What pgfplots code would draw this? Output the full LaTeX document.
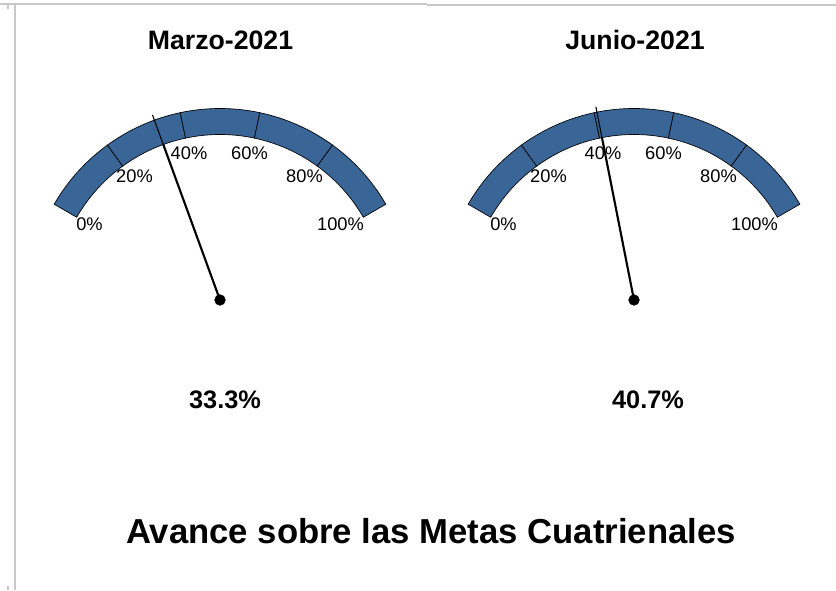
\documentclass[border=0pt]{standalone}
\usepackage{pgfplots}
\usepackage{pgfplotstable}
\pgfplotsset{compat=1.18}
\usepackage{fontspec}
\setmainfont{Liberation Sans}
\definecolor{bandblue}{RGB}{58,101,151}
\definecolor{framegray}{RGB}{200,200,200}

% needle values (percent)
\pgfplotstableread{
r v
0 33.3
166 33.3
}\needleAin
\pgfplotstableread{
r v
166 33.3
197 33.3
}\needleAout
\pgfplotstableread{
r v
0 40.7
166 40.7
}\needleBin
\pgfplotstableread{
r v
166 40.7
197 40.7
}\needleBout

\newcommand{\seg}[2]{%
  \filldraw[fill=bandblue, draw=black, line width=0.5pt]
    (axis cs:{191.5*cos(#1)},{191.5*sin(#1)})
    arc[start angle=#1, end angle=#2, radius=143.625pt]
    -- (axis cs:{165.5*cos(#2)},{165.5*sin(#2)})
    arc[start angle=#2, end angle=#1, radius=124.125pt] -- cycle;}

\newcommand{\gaugebody}{%
  \seg{150}{126}\seg{126}{102}\seg{102}{78}\seg{78}{54}\seg{54}{30}
  \node[anchor=base, font=\fontsize{13.7}{15}\selectfont] at (axis cs:-130.5,69) {0\%};
  \node[anchor=base, font=\fontsize{13.7}{15}\selectfont] at (axis cs:-85.5,117) {20\%};
  \node[anchor=base, font=\fontsize{13.7}{15}\selectfont] at (axis cs:-31,140) {40\%};
  \node[anchor=base, font=\fontsize{13.7}{15}\selectfont] at (axis cs:29.5,140) {60\%};
  \node[anchor=base, font=\fontsize{13.7}{15}\selectfont] at (axis cs:84.5,117) {80\%};
  \node[anchor=base, font=\fontsize{13.7}{15}\selectfont] at (axis cs:120.5,69) {100\%};
}

\pgfplotsset{gauge/.style={x=0.75pt, y=0.75pt, hide axis, clip=false,
  xmin=-200, xmax=200, ymin=-10, ymax=200, anchor=south west}}

\begin{document}
\begin{tikzpicture}[x=0.75pt, y=0.75pt]
\fill[white] (0,0) rectangle (836,590);
% frame remnants
\draw[framegray, line width=1.5pt] (0,585.5) -- (427,585.5);
\draw[framegray, line width=1.5pt] (427,584.5) -- (836,584.5);
\draw[framegray, line width=1.5pt] (14.5,586) -- (14.5,0);
\draw[framegray, line width=1.5pt] (8,586) -- (8,581);
\draw[framegray, line width=1.5pt] (7.5,4) -- (7.5,0);

\begin{axis}[gauge, at={(15pt,210pt)}]
\gaugebody
\addplot[black, line width=1.6pt] table[x expr={\thisrow{r}*cos(150-1.2*\thisrow{v})}, y expr={\thisrow{r}*sin(150-1.2*\thisrow{v})}] {\needleAin};
\addplot[black, line width=0.8pt] table[x expr={\thisrow{r}*cos(150-1.2*\thisrow{v})}, y expr={\thisrow{r}*sin(150-1.2*\thisrow{v})}] {\needleAout};
\addplot[only marks, mark=*, mark size=4pt, black] coordinates {(0,0)};
\end{axis}

\begin{axis}[gauge, at={(325.5pt,210pt)}]
\gaugebody
\addplot[black, line width=1.6pt] table[x expr={\thisrow{r}*cos(150-1.2*\thisrow{v})}, y expr={\thisrow{r}*sin(150-1.2*\thisrow{v})}] {\needleBin};
\addplot[black, line width=0.8pt] table[x expr={\thisrow{r}*cos(150-1.2*\thisrow{v})}, y expr={\thisrow{r}*sin(150-1.2*\thisrow{v})}] {\needleBout};
\addplot[only marks, mark=*, mark size=4pt, black] coordinates {(0,0)};
\end{axis}

\node[anchor=base, font=\bfseries\fontsize{20}{23}\selectfont] at (220.5,540) {Marzo-2021};
\node[anchor=base, font=\bfseries\fontsize{20}{23}\selectfont] at (635,540) {Junio-2021};
\node[anchor=base, font=\bfseries\fontsize{19}{22}\selectfont] at (225,181) {33.3\%};
\node[anchor=base, font=\bfseries\fontsize{19}{22}\selectfont] at (648,181) {40.7\%};
\node[anchor=base, font=\bfseries\fontsize{26}{30}\selectfont] at (431,47) {Avance sobre las Metas Cuatrienales};

\pgfresetboundingbox
\useasboundingbox (0,0) rectangle (836,590);
\end{tikzpicture}
\end{document}
